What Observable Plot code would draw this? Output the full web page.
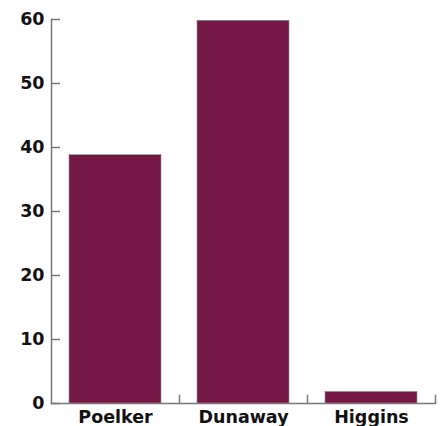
<!DOCTYPE html>
<html><head><meta charset="utf-8">
<script src="https://cdn.jsdelivr.net/npm/d3@7"></script>
<script src="https://cdn.jsdelivr.net/npm/@observablehq/plot@0.6"></script>
<style>
html,body{margin:0;padding:0;background:#fff;}
svg{display:block;}
</style></head>
<body><div id="chart"></div>
<script>
const candidates = ["Poelker", "Dunaway", "Higgins"];
const values = [38.8, 59.8, 1.8];
const yTicks = [0, 10, 20, 30, 40, 50, 60];

const data = candidates.map((c, i) => ({candidate: c, value: values[i]}));
const axisColor = "#777";
const font = "'DejaVu Sans', sans-serif";

const chart = Plot.plot({
  width: 443,
  height: 426,
  marginLeft: 51,
  marginRight: 8,
  marginTop: 19,
  marginBottom: 23,
  style: {fontFamily: font, background: "#fff"},
  x: {domain: candidates, paddingInner: 0.28, paddingOuter: 0.14, label: null},
  y: {domain: [0, 60], label: null},
  marks: [
    Plot.barY(data, {x: "candidate", y: "value", fill: "#761846", stroke: "#9a8a92", strokeWidth: 0.6}),
    Plot.frame({anchor: "left", stroke: axisColor, strokeWidth: 1.5}),
    Plot.frame({anchor: "bottom", stroke: axisColor, strokeWidth: 1.5}),
    Plot.axisY(yTicks, {tickSize: -9, stroke: axisColor, strokeWidth: 1.5, text: null, label: null}),
    Plot.axisY(yTicks, {tickSize: 0, tickPadding: 7, fontSize: 17.5, fontWeight: 700, fill: "#111", label: null}),
    Plot.ruleX(candidates, {x: d => d, dx: 64, y1: 0, y2: 1.3, stroke: axisColor, strokeWidth: 1.5}),
    Plot.axisX({tickSize: 0, tickPadding: 7, fontSize: 17.5, fontWeight: 700, fill: "#111", label: null})
  ]
});
document.getElementById("chart").appendChild(chart);
</script>
</body></html>
